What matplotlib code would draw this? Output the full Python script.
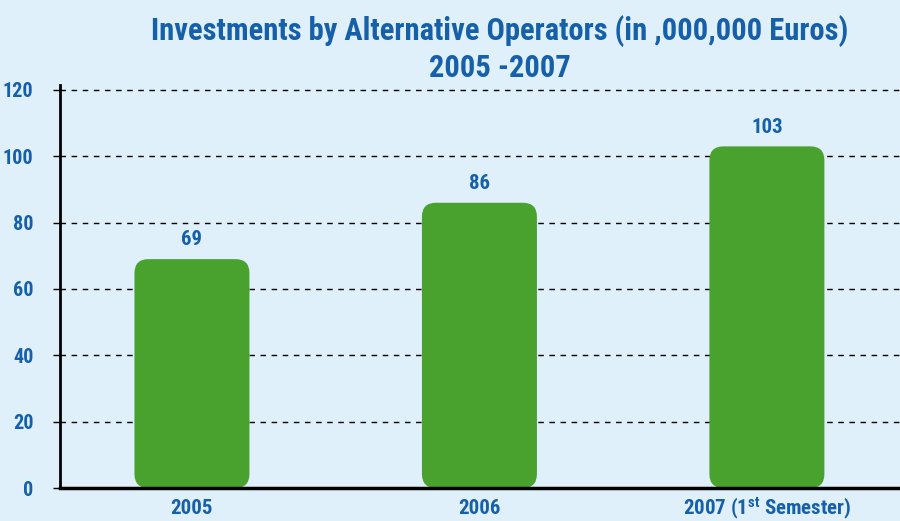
import matplotlib
matplotlib.use("Agg")
import matplotlib.pyplot as plt
from matplotlib.patches import FancyBboxPatch

categories = ["2005", "2006", r"2007 (1$^{st}$ Semester)"]
values = [69, 86, 103]
yticks = [0, 20, 40, 60, 80, 100, 120]
title_lines = ["Investments by Alternative Operators (in ,000,000 Euros)", "2005 -2007"]

FONT = ["Roboto Condensed", "DejaVu Sans"]
plt.rcParams['font.family'] = FONT
plt.rcParams['mathtext.fontset'] = 'custom'
plt.rcParams['mathtext.bf'] = 'Roboto Condensed:bold'
plt.rcParams['mathtext.rm'] = 'Roboto Condensed:bold'
plt.rcParams['mathtext.default'] = 'bf'

BG = "#dff0fb"
BLUE = "#1560a8"
GREEN = "#4aa22e"

fig = plt.figure(figsize=(9, 5.21), dpi=100, facecolor=BG)
ax = fig.add_axes([60/900, 33/521, 840/900, (488-85)/521])
ax.set_facecolor(BG)

xlim = (-0.459, 2.463)
ylim = (0, 121.5)
ax.set_xlim(*xlim)
ax.set_ylim(*ylim)

px_per_x = 840 / (xlim[1] - xlim[0])
px_per_y = (488 - 85) / (ylim[1] - ylim[0])
width = 0.4
r_px = 14
rs = r_px / px_per_x
aspect = px_per_x / px_per_y

ax.set_yticks(yticks)
ax.yaxis.grid(True, linestyle=(0, (4, 4)), color="black", linewidth=1)
ax.set_axisbelow(True)

for i, v in enumerate(values):
    p = FancyBboxPatch((i - width/2, 0), width, v,
                       boxstyle=f"round,pad=0,rounding_size={rs}",
                       mutation_aspect=aspect,
                       facecolor=GREEN, edgecolor="none", zorder=3)
    ax.add_patch(p)
    ax.annotate(str(v), (i, v), xytext=(0, 7), textcoords="offset points",
                ha="center", va="bottom", color=BLUE, fontsize=15,
                fontweight="bold", family=FONT)

ax.set_xticks(range(len(categories)))
ax.set_xticklabels(categories)
for lab in ax.get_xticklabels():
    lab.set_color(BLUE)
    lab.set_fontweight("bold")
    lab.set_fontsize(15)
    lab.set_va("baseline")
for lab in ax.get_yticklabels():
    lab.set_color(BLUE)
    lab.set_fontweight("bold")
    lab.set_fontsize(14.5)
ax.tick_params(axis="x", length=0, pad=19)
ax.tick_params(axis="y", length=5, width=1, pad=14, direction="out")

for s in ["top", "right"]:
    ax.spines[s].set_visible(False)
ax.spines["left"].set_linewidth(2)
ax.spines["bottom"].set_linewidth(2.5)
ax.spines["left"].set_zorder(4)
ax.spines["bottom"].set_zorder(4)

fig.text(500/900, 1 - 31/521, title_lines[0], ha="center", va="center",
         color=BLUE, fontsize=22, fontweight="bold", family=FONT)
fig.text(500/900, 1 - 68/521, title_lines[1], ha="center", va="center",
         color=BLUE, fontsize=22, fontweight="bold", family=FONT)

fig.savefig("out.png", dpi=100, facecolor=BG)
